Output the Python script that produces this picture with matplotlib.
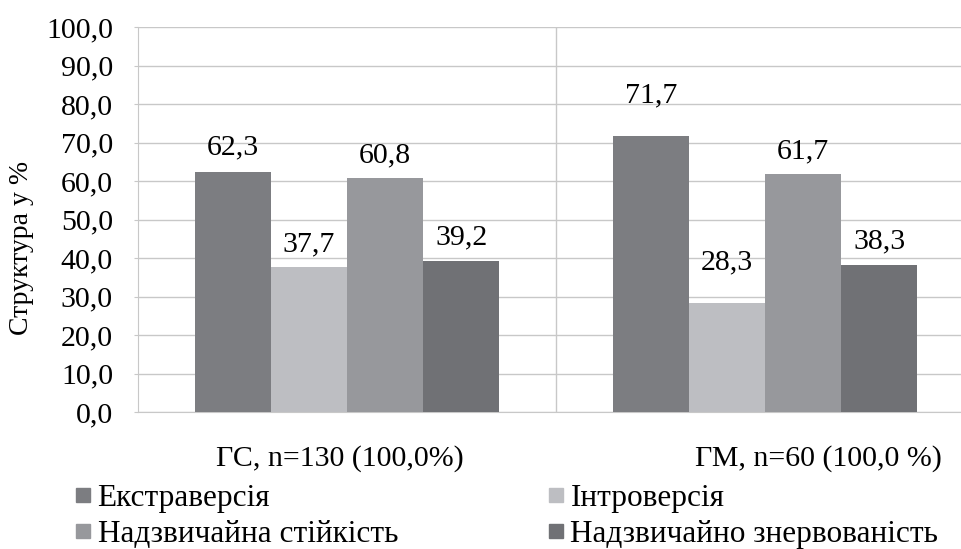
import numpy as np
import matplotlib
matplotlib.use("Agg")
import matplotlib.pyplot as plt
from matplotlib.lines import Line2D
from matplotlib.transforms import ScaledTranslation

# data
groups = ["ГС, n=130 (100,0%)", "ГМ, n=60 (100,0 %)"]
series = ["Екстраверсія", "Інтроверсія", "Надзвичайна стійкість", "Надзвичайно знервованість"]
extraversion = [62.3, 71.7]
introversion = [37.7, 28.3]
stability = [60.8, 61.7]
nervousness = [39.2, 38.3]
yticks = np.arange(0, 101, 10)

colors = ["#7c7d81", "#bdbec2", "#97989c", "#707175"]

plt.rcParams['font.family'] = ['Liberation Serif', 'DejaVu Serif']
fs = 21.5

fig = plt.figure(figsize=(9.62, 5.49), dpi=100)
# plot area runs past the right edge like in the original
ax = fig.add_axes([138/962, 1 - 412/549, 836/962, 385/549])

x = np.arange(len(groups))
w = 0.182
vals = [extraversion, introversion, stability, nervousness]
# label gap above bar top (points), as in the original
gaps = [[13, 24.5], [11, 24], [11.5, 11.5], [12, 12]]
for i, v in enumerate(vals):
    pos = x + (i - 1.5) * w
    ax.bar(pos, v, width=w, color=colors[i], zorder=3)
    for j, (p, val) in enumerate(zip(pos, v)):
        ax.annotate(f"{val:.1f}".replace(".", ","), (p, val), xytext=(0, gaps[i][j]),
                    textcoords="offset points", ha="center", va="baseline", fontsize=fs)

ax.set_xlim(-0.5, 1.5)
ax.set_ylim(0, 100)
ax.set_yticks(yticks)
ax.set_yticklabels([f"{t:.1f}".replace(".", ",") for t in yticks], fontsize=fs)
ax.yaxis.grid(True, color="#c8c8c8", linewidth=1, zorder=0)
ax.axvline(0.5, color="#c8c8c8", linewidth=1, zorder=0)
ax.tick_params(axis="y", length=3, color="#c8c8c8", pad=15)

ax.set_xticks(x)
ax.set_xticklabels(groups, fontsize=fs)
ax.tick_params(axis="x", length=0, pad=24)
# category labels sit a bit off-centre in the original
lbls = ax.get_xticklabels()
lbls[0].set_transform(lbls[0].get_transform() + ScaledTranslation(-7/100, 0, fig.dpi_scale_trans))
lbls[1].set_transform(lbls[1].get_transform() + ScaledTranslation(53/100, 0, fig.dpi_scale_trans))

for s in ["top", "right"]:
    ax.spines[s].set_visible(False)
for s in ["left", "bottom"]:
    ax.spines[s].set_color("#c8c8c8")

ax.set_ylabel("Структура у %", fontsize=20)
ax.yaxis.set_label_coords(-0.124, 0.426)

# legend filled row by row
order = [0, 2, 1, 3]
handles = [Line2D([], [], marker="s", linestyle="none", markersize=10, color=colors[k]) for k in order]
fig.legend(handles, [series[k] for k in order], ncol=2, frameon=False, fontsize=22.5,
           loc="upper left", bbox_to_anchor=(75/962, 1 - 484/549),
           handlelength=0.5, handletextpad=0.22, columnspacing=4.8,
           borderpad=0, borderaxespad=0, labelspacing=0.22)

fig.savefig("out.png", dpi=100)
